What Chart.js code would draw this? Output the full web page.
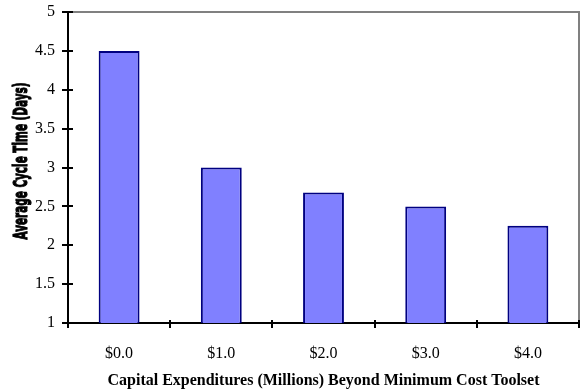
<!DOCTYPE html>
<html>
<head>
<meta charset="utf-8">
<script src="https://cdn.jsdelivr.net/npm/chart.js@4.4.1/dist/chart.umd.min.js"></script>
<style>
  html, body { margin:0; padding:0; background:#fff; }
  #wrap { width:583px; height:390px; position:relative; }
</style>
</head>
<body>
<div id="wrap"><canvas id="cycleChart"></canvas></div>
<script>
const capex = ["$0.0", "$1.0", "$2.0", "$3.0", "$4.0"];
const cycleDays = [4.5, 3.0, 2.68, 2.5, 2.25];
const yTicks = [1, 1.5, 2, 2.5, 3, 3.5, 4, 4.5, 5];

const yTitle = "Average Cycle Time (Days)";
const xTitle = "Capital Expenditures (Millions) Beyond Minimum Cost Toolset";

// tick marks that cross the axis lines, plus the grey top/right frame and the squeezed y title
const axisExtras = {
  id: 'axisExtras',
  afterDraw(chart){
    const ctx = chart.ctx;
    const a = chart.chartArea;
    const ys = chart.scales.y;
    ctx.save();
    ctx.strokeStyle = '#808080';
    ctx.lineWidth = 2;
    ctx.beginPath();
    ctx.moveTo(a.left, a.top);
    ctx.lineTo(a.right, a.top);
    ctx.lineTo(a.right, a.bottom);
    ctx.stroke();

    ctx.strokeStyle = '#000';
    ctx.lineWidth = 2;
    ctx.beginPath();
    yTicks.forEach(v => {
      const y = Math.round(ys.getPixelForValue(v));
      ctx.moveTo(a.left - 6, y);
      ctx.lineTo(a.left + 5, y);
    });
    const step = (a.right - a.left) / capex.length;
    for(let i=0;i<=capex.length;i++){
      const x = Math.round(a.left + i*step);
      ctx.moveTo(x, a.bottom - 3);
      ctx.lineTo(x, a.bottom + 5);
    }
    ctx.stroke();

    ctx.fillStyle = '#000';
    ctx.lineWidth = 1.2;
    ctx.font = 'bold 20px "DejaVu Sans"';
    ctx.textAlign = 'center';
    ctx.textBaseline = 'middle';
    const w = ctx.measureText(yTitle).width;
    ctx.translate(22, 161);
    ctx.rotate(-Math.PI/2);
    ctx.scale(157 / w, 1);
    ctx.fillText(yTitle, 0, 0);
    ctx.strokeText(yTitle, 0, 0);
    ctx.restore();
  }
};

new Chart(document.getElementById('cycleChart'), {
  type: 'bar',
  data: {
    labels: capex,
    datasets: [{
      data: cycleDays,
      backgroundColor: '#8080ff',
      borderColor: '#000080',
      borderWidth: 2,
      borderSkipped: 'bottom',
      categoryPercentage: 1,
      barPercentage: 0.4
    }]
  },
  options: {
    responsive: true,
    maintainAspectRatio: false,
    animation: false,
    layout: { padding: { top: 12, right: 4, left: 0, bottom: 0 } },
    plugins: { legend: { display: false }, tooltip: { enabled: false } },
    scales: {
      x: {
        grid: { display: false, drawTicks: false },
        border: { display: true, color: '#000', width: 2 },
        ticks: { color: '#000', padding: 21, font: { family: '"Liberation Serif"', size: 16 } },
        title: {
          display: true, text: xTitle, color: '#000',
          font: { family: '"Liberation Serif"', size: 16, weight: 'bold' },
          padding: { top: 0, bottom: 0 }
        },
        afterFit: s => { s.height = 67; s.paddingLeft = 0; s.paddingRight = 0; }
      },
      y: {
        min: 1, max: 5,
        afterBuildTicks: s => { s.ticks = yTicks.map(v => ({ value: v })); },
        grid: { display: false, drawTicks: false },
        border: { display: true, color: '#000', width: 2 },
        ticks: {
          color: '#000', padding: 13,
          font: { family: '"Liberation Serif"', size: 16 },
          callback: v => String(v)
        },
        afterFit: s => { s.width = 68; s.paddingTop = 0; s.paddingBottom = 0; }
      }
    }
  },
  plugins: [axisExtras]
});
</script>
</body>
</html>
